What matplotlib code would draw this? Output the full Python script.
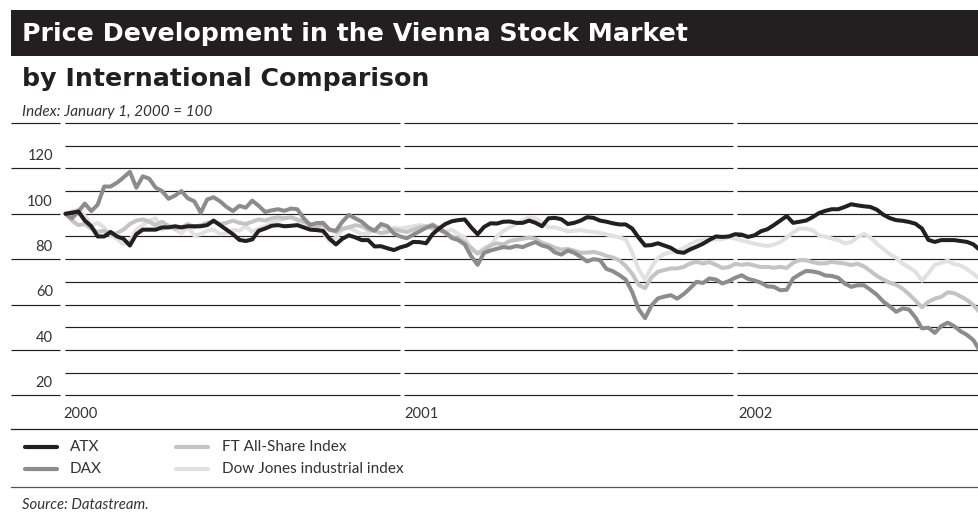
import numpy as np
import pandas as pd
import matplotlib
matplotlib.use("Agg")
import matplotlib.pyplot as plt
import matplotlib.dates as mdates
import matplotlib.transforms as mtransforms
from matplotlib.lines import Line2D
from matplotlib.patches import Rectangle

# ---------------- data (index: January 1, 2000 = 100), weekly readings ----------------
dates = pd.date_range("2000-01-01", periods=143, freq="7D")

atx = [100, 100.5, 101, 97, 94.5, 90, 90, 92, 90, 89,
       86, 91, 93, 93, 93, 94, 94, 94.5, 94, 94.5,
       94.5, 94.5, 95, 97, 95, 93, 91, 88.5, 88, 88.7,
       92.5, 93.5, 94.7, 95, 94.5, 94.7, 95, 94, 93, 92.8,
       92.5, 89, 86.5, 89, 90.5, 89.6, 88.4, 88.4, 85.6, 85.7,
       84.8, 84, 85.2, 86, 87.6, 87.5, 87, 91, 93.5, 95.5,
       96.7, 97.2, 97.5, 94, 91, 94.2, 95.8, 95.7, 96.5, 96.6,
       96, 96, 97, 96, 94.5, 98, 98.2, 97.6, 95.5, 96,
       97, 98.5, 98.2, 97, 96.5, 95.8, 95.3, 95.3, 93.5, 89.5,
       86, 86.2, 87, 86, 85, 83.2, 82.8, 84.3, 85.5, 86.8,
       88.5, 90, 89.8, 90, 91, 90.8, 89.8, 90.5, 92.3, 93.2,
       95, 97, 99, 96, 96.5, 97, 98.5, 100.3, 101.3, 102,
       102, 103, 104.2, 103.7, 103.3, 103, 101.8, 99.6, 98.1, 97.2,
       96.9, 96.4, 95.6, 93.5, 88.5, 87.6, 88.4, 88.4, 88.4, 88,
       87.6, 86.5, 84]

dax = [100, 98, 101, 104.5, 101.2, 104, 112, 112, 113.7, 116,
       118.5, 111.5, 116.5, 115.5, 111.5, 110, 106.6, 108, 110, 106.8,
       105.5, 100.5, 106.3, 107.3, 105.5, 103, 101.2, 103.5, 102.7, 105.8,
       103.5, 100.8, 101.5, 102, 101.3, 102.3, 102, 98, 95, 95.9,
       96, 93, 92.5, 96.5, 99.5, 98, 96.5, 94, 92.5, 95.5,
       94.5, 91.3, 90, 89.2, 90.8, 92.3, 93.8, 95, 93.3, 91.8,
       89.3, 88.4, 86.5, 81.3, 77.5, 82.8, 83.8, 84.6, 85.3, 85,
       85.8, 85.3, 86.5, 87.5, 86, 85.3, 83, 82, 83.8, 82.8,
       81, 79, 80, 79.6, 75.7, 74.7, 73, 71, 65.5, 58,
       54, 59.6, 62.7, 63.5, 64.1, 62.6, 64.6, 67.2, 70, 69.5,
       71.5, 71, 69.3, 70.3, 71.8, 72.9, 71.3, 70.6, 69.6, 68,
       67.8, 66.3, 66.5, 71.5, 73.3, 74.8, 74.6, 74, 72.8, 72.6,
       71.8, 69.3, 67.8, 68.5, 68.5, 66.5, 64.3, 61.3, 59.2, 56.8,
       58.3, 57.8, 54.3, 49.5, 49.8, 47.5, 50.5, 52, 50.5, 48.2,
       46.6, 44.3, 39.5]

ft_all_share = [100, 97, 95, 95.5, 93.5, 92, 92.5, 91, 91.5, 93,
                95.5, 97, 97.5, 96.5, 95, 96.5, 94.5, 93.5, 94, 95.5,
                94, 95, 96, 96.5, 95.5, 96, 97, 96, 95.5, 96.5,
                97.5, 97, 98, 98.5, 98, 98.5, 97.5, 96.5, 95.5, 94.5,
                95, 93, 92, 93.5, 94, 95, 94.5, 93, 92.5, 91.5,
                92, 93, 92.5, 92, 93, 94, 94.5, 93.5, 93, 91.5,
                90, 89, 87.5, 85, 82.5, 84, 86, 87, 86.5, 88,
                88.5, 89, 89.5, 89, 87.2, 86.3, 85, 84.2, 84.5, 83.7,
                82.8, 82.9, 83.2, 82.5, 81.4, 80.7, 79.5, 77, 73.6, 68.7,
                67.2, 72, 74.5, 75.2, 75.9, 75.9, 76.6, 78.1, 78.8, 78.1,
                78.7, 77.5, 76.1, 76.5, 77.9, 77.5, 77.9, 77.2, 76.5, 76.6,
                76.2, 76.6, 76.1, 78.4, 79.6, 79.5, 78.7, 78.1, 78.2, 78.8,
                78.4, 78.1, 77.4, 78, 76.8, 74.8, 72.6, 71, 69.6, 68.7,
                67, 64.5, 61.7, 58.8, 61.2, 62.6, 63.4, 65.4, 65, 63.6,
                62, 59.7, 56.5]

dow_jones = [100, 101, 102, 99, 95, 96, 94, 90.5, 89, 86.5,
             88, 93, 95, 97, 98, 93, 95, 93, 91.5, 94,
             90.5, 91, 92.5, 93, 91, 91.5, 93, 92.5, 94.5, 92,
             93.5, 94.5, 96, 97, 98, 98.5, 97, 96, 94.5, 93.5,
             91.5, 88, 89.5, 93, 94, 92.5, 91, 91.5, 93, 94.5,
             92.5, 94, 93.5, 94, 94.5, 95, 94.5, 95.5, 94, 92,
             93, 91, 89.5, 84, 82.5, 85, 86, 90, 92.5, 94,
             95.5, 97, 98.5, 98, 96.3, 94, 94, 93.2, 92.2, 92.5,
             92.8, 92.3, 92, 91.6, 90.9, 90.3, 89.6, 88.7, 83, 75.5,
             71, 76.5, 80.5, 82.3, 83, 83.7, 84.8, 86.5, 88, 88.4,
             88.7, 88.8, 88.8, 89.7, 89, 88.3, 87.5, 86.8, 86.2, 85.8,
             86.4, 87.5, 89.6, 91.8, 93.5, 93.4, 92.7, 90.5, 89.9, 89.1,
             88.4, 87, 87.5, 89.6, 91.1, 89.5, 86.8, 84.5, 82.2, 80.6,
             78, 76.3, 74.5, 70.5, 73.8, 77.5, 78.4, 79.3, 77.8, 77.2,
             75.6, 73.5, 71.3]

series_names = ["ATX", "DAX", "FT All-Share Index", "Dow Jones industrial index"]
series_values = [atx, dax, ft_all_share, dow_jones]
series_colors = ["#231f20", "#8c8c8c", "#c4c4c4", "#e1e1e1"]

grid_values = list(range(20, 150, 10))
ytick_values = [20, 40, 60, 80, 100, 120]
year_labels = ["2000", "2001", "2002"]

title = "Price Development in the Vienna Stock Market"
subtitle = "by International Comparison"
index_note = "Index: January 1, 2000 = 100"
source_note = "Source: Datastream."

# ---------------- layout ----------------
W, H = 979, 514
DARK = "#231f20"
TXT = "#333333"
LIGHT_FONT = ["Lato", "DejaVu Sans"]

fig = plt.figure(figsize=(W / 100, H / 100), dpi=100)
ax = fig.add_axes([0, 0, 1, 1])
ax.set_axis_off()

PX_PER_YEAR = 336.0
X0_PX = 65.5
t0 = mdates.date2num(pd.Timestamp("2000-01-01"))
dpp = 365.25 / PX_PER_YEAR
ax.set_xlim(t0 - X0_PX * dpp, t0 + (W - X0_PX) * dpp)
Y20_PX, PX_PER_UNIT = 395.3, 2.269
ax.set_ylim(20 - (H - Y20_PX) / PX_PER_UNIT, 20 + Y20_PX / PX_PER_UNIT)

def fx(px):
    return px / W

def fy(py):
    return 1 - py / H

gtrans = mtransforms.blended_transform_factory(fig.transFigure, ax.transData)

# grid segments
segments = [(65, 400), (404, 733), (737, W)]
for v in grid_values:
    segs = ([(11, 60)] if v % 20 == 0 else []) + segments
    for a, b in segs:
        ax.plot([fx(a), fx(b)], [v, v], transform=gtrans, color=DARK,
                lw=0.85, solid_capstyle="butt", zorder=1)

# data lines (lightest underneath)
xd = mdates.date2num(dates)
for name, vals, col in reversed(list(zip(series_names, series_values, series_colors))):
    ax.plot(xd, vals, color=col, lw=2.9, solid_joinstyle="round",
            solid_capstyle="round", zorder=3)

renderer = fig.canvas.get_renderer()

def fit(txt, target_px):
    bb = txt.get_window_extent(renderer)
    txt.set_fontsize(txt.get_fontsize() * target_px / bb.width)
    return txt.get_fontsize()

# y labels
for v in ytick_values:
    ax.text(fx(53), v + 5.4, str(v), transform=gtrans, ha="right", va="center",
            fontsize=10.6, color=TXT, family=LIGHT_FONT)

# year labels
for lab, px in zip(year_labels, [63, 404, 738]):
    fig.text(fx(px), fy(413.5), lab, ha="left", va="center", fontsize=10.6,
             color=TXT, family=LIGHT_FONT)

# separators
fig.add_artist(Line2D([fx(11), fx(W)], [fy(429.3), fy(429.3)], color=DARK, lw=0.9))
fig.add_artist(Line2D([fx(11), fx(W)], [fy(486.7), fy(486.7)], color="#555555", lw=0.9))

# title bar
fig.add_artist(Rectangle((fx(11), fy(56)), fx(W) - fx(11), fy(10) - fy(56),
                         transform=fig.transFigure, color=DARK, lw=0))

t = fig.text(fx(22), fy(33.5), title, ha="left", va="center", color="white",
             fontsize=16, family=["DejaVu Sans"], fontweight="bold")
fit(t, 666)
s = fig.text(fx(22), fy(79), subtitle, ha="left", va="center", color=DARK,
             fontsize=16, family=["DejaVu Sans"], fontweight="bold")
fit(s, 408)
n = fig.text(fx(22), fy(112), index_note, ha="left", va="center", color=TXT,
             fontsize=10, family=LIGHT_FONT, style="italic")
fit(n, 190)
src = fig.text(fx(22), fy(505), source_note, ha="left", va="center", color=TXT,
               fontsize=10, family=LIGHT_FONT, style="italic")
fit(src, 126)

# legend
leg_pos = [(25, 57, 446.7, 70), (25, 57, 469, 70), (176, 208, 446.7, 222), (176, 208, 469, 222)]
leg_texts = []
for (x1, x2, yy, xt), name, col in zip(leg_pos, series_names, series_colors):
    fig.add_artist(Line2D([fx(x1), fx(x2)], [fy(yy), fy(yy)], color=col, lw=3.0,
                          solid_capstyle="round"))
    leg_texts.append(fig.text(fx(xt), fy(yy), name, ha="left", va="center", fontsize=11,
                              color=TXT, family=LIGHT_FONT))
fs = fit(leg_texts[3], 182)
for lt in leg_texts:
    lt.set_fontsize(fs)

fig.savefig("out.png", dpi=100)
